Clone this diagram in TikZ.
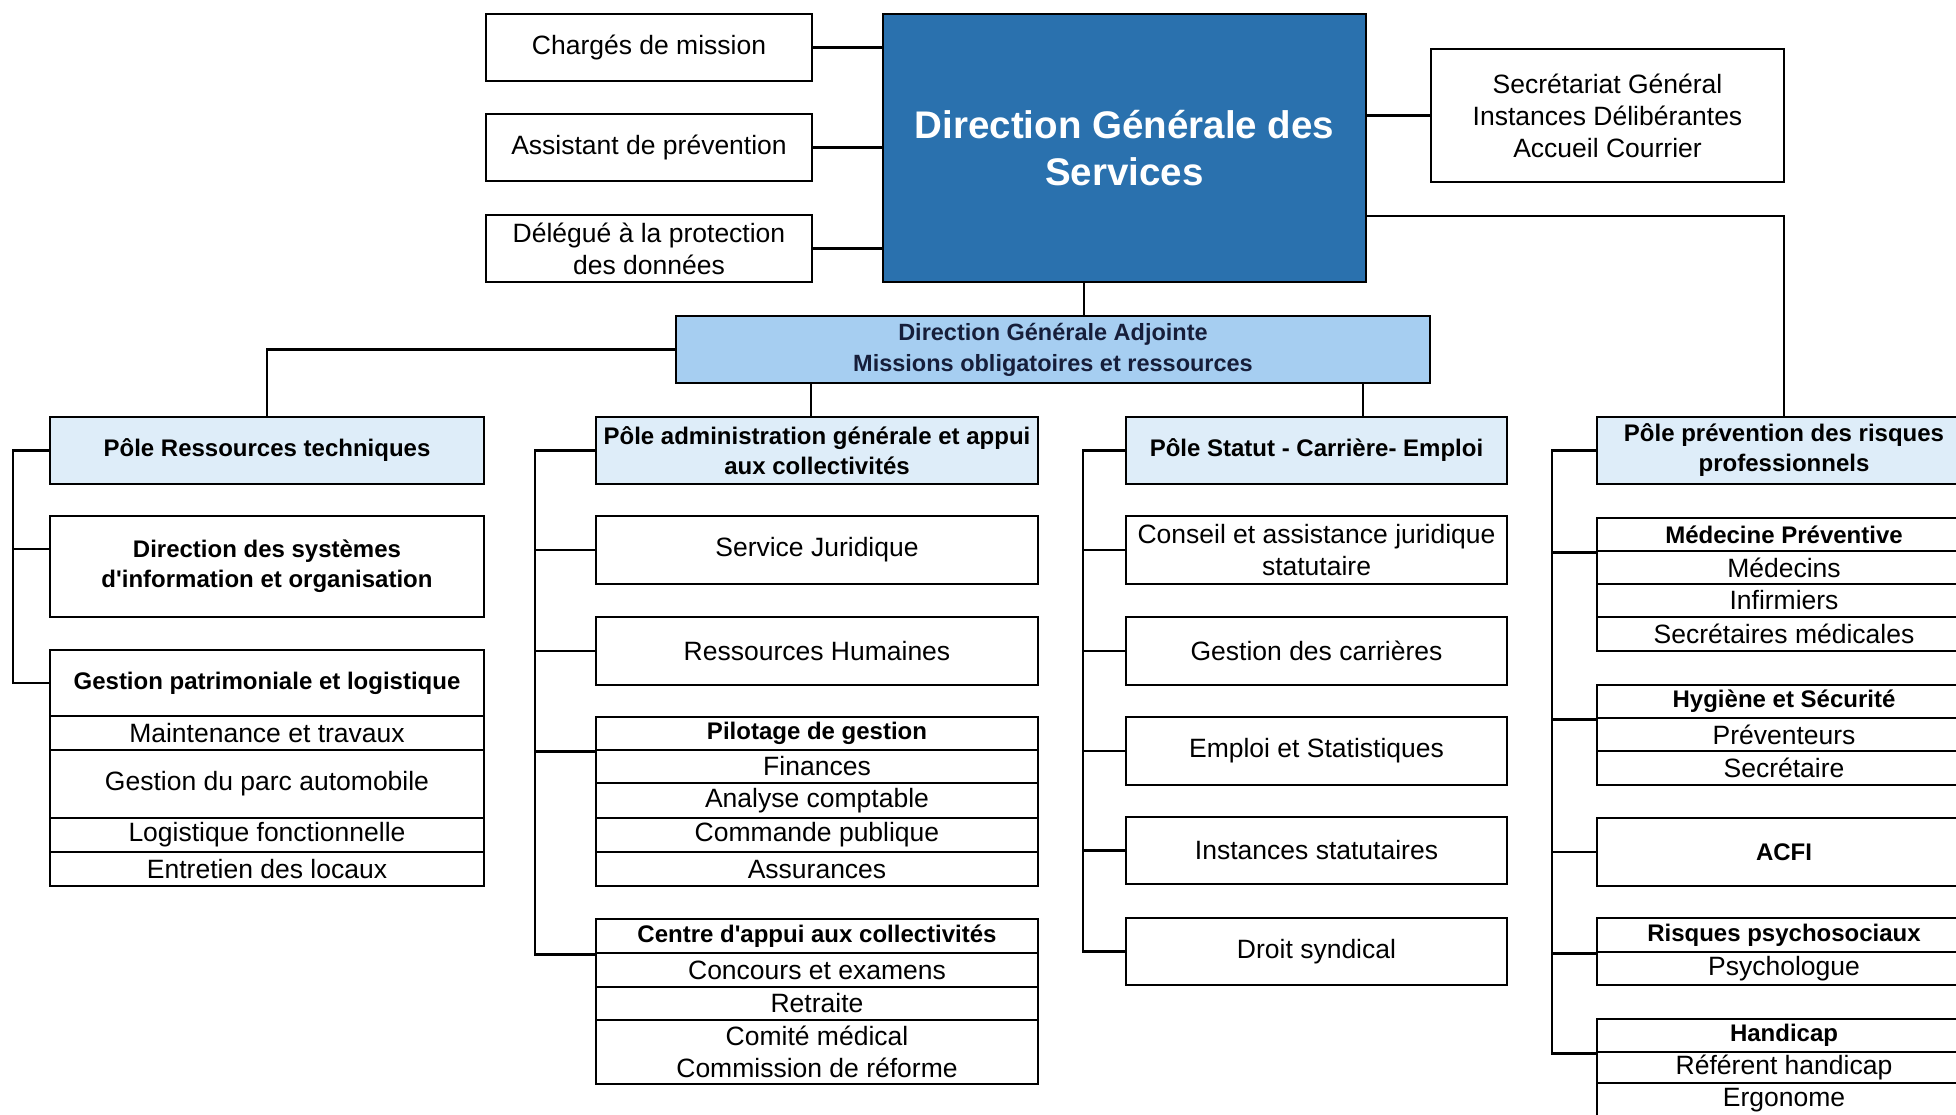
\documentclass[tikz,border=0pt]{standalone}
\usepackage{fontspec}
\setmainfont{Liberation Sans}
\usetikzlibrary{calc}
\definecolor{dgsblue}{RGB}{42,113,174}
\definecolor{dgablue}{RGB}{166,206,241}
\definecolor{poleblue}{RGB}{222,237,249}
\definecolor{dgatext}{RGB}{22,30,58}
\tikzset{
  box/.style={draw, line width=2.6pt, fill=white, align=center, inner sep=0pt,
    font=\fontsize{26.5}{32}\selectfont},
  head/.style={box, font=\fontsize{24}{30}\selectfont\bfseries},
  pole/.style={head, fill=poleblue},
  dgsbox/.style={box, fill=dgsblue, text=white, font=\fontsize{38.5}{47}\selectfont\bfseries},
  dgabox/.style={head, fill=dgablue, text=dgatext, font=\fontsize{23.5}{31}\selectfont\bfseries},
  link/.style={line width=2.5pt},
}
% box from its corners: style, name, x1, y1, x2, y2, text
\newcommand{\orgbox}[7]{\node [#1, minimum width={(#5-#3)*1pt}, minimum height={(#6-#4)*1pt}] (#2) at ({(#3+#5)/2},{(#4+#6)/2}) {#7};}
\begin{document}
\begin{tikzpicture}[x=1pt,y=-1pt]
\clip (0,0) rectangle (1956,1114);
\fill [white] (0,0) rectangle (1956,1114);
% direction
\orgbox{box}{charges}{486}{14}{812}{81}{Chargés de mission}
\orgbox{box}{assist}{486}{114}{812}{181}{Assistant de prévention}
\orgbox{box}{dpo}{486}{215}{812}{282}{Délégué à la protection\\des données}
\orgbox{dgsbox}{dgs}{883}{14}{1366}{282}{Direction Générale des\\Services}
\orgbox{box}{sg}{1431}{49}{1784}{182}{Secrétariat Général\\Instances Délibérantes\\Accueil Courrier}
\orgbox{dgabox}{dga}{676}{316}{1430}{383}{Direction Générale Adjointe\\Missions obligatoires et ressources}
% poles
\orgbox{pole}{rt}{50}{417}{484}{484}{Pôle Ressources techniques}
\orgbox{pole}{adm}{596}{417}{1038}{484}{Pôle administration générale et appui\\aux collectivités}
\orgbox{pole}{stat}{1126}{417}{1507}{484}{Pôle Statut - Carrière- Emploi}
\orgbox{pole}{prev}{1597}{417}{1971}{484}{Pôle prévention des risques\\professionnels}
% ressources techniques
\orgbox{head}{dsi}{50}{516}{484}{617}{Direction des systèmes\\d\textquotesingle information et organisation}
\orgbox{head}{gp}{50}{650}{484}{716}{Gestion patrimoniale et logistique}
\orgbox{box}{gp1}{50}{716}{484}{750}{Maintenance et travaux}
\orgbox{box}{gp2}{50}{750}{484}{818}{Gestion du parc automobile}
\orgbox{box}{gp3}{50}{818}{484}{852}{Logistique fonctionnelle}
\orgbox{box}{gp4}{50}{852}{484}{886}{Entretien des locaux}
% administration generale
\orgbox{box}{jur}{596}{516}{1038}{584}{Service Juridique}
\orgbox{box}{rh}{596}{617}{1038}{685}{Ressources Humaines}
\orgbox{head}{pil}{596}{717}{1038}{750}{Pilotage de gestion}
\orgbox{box}{pil1}{596}{750}{1038}{783}{Finances}
\orgbox{box}{pil2}{596}{783}{1038}{818}{Analyse comptable}
\orgbox{box}{pil3}{596}{818}{1038}{852}{Commande publique}
\orgbox{box}{pil4}{596}{852}{1038}{886}{Assurances}
\orgbox{head}{cap}{596}{919}{1038}{953}{Centre d\textquotesingle appui aux collectivités}
\orgbox{box}{cap1}{596}{953}{1038}{987}{Concours et examens}
\orgbox{box}{cap2}{596}{987}{1038}{1020}{Retraite}
\orgbox{box}{cap3}{596}{1020}{1038}{1084}{Comité médical\\Commission de réforme}
% statut
\orgbox{box}{cons}{1126}{516}{1507}{584}{Conseil et assistance juridique\\statutaire}
\orgbox{box}{carr}{1126}{617}{1507}{685}{Gestion des carrières}
\orgbox{box}{empl}{1126}{717}{1507}{785}{Emploi et Statistiques}
\orgbox{box}{inst}{1126}{817}{1507}{884}{Instances statutaires}
\orgbox{box}{synd}{1126}{918}{1507}{985}{Droit syndical}
% prevention
\orgbox{head}{med}{1597}{518}{1971}{551}{Médecine Préventive}
\orgbox{box}{med1}{1597}{551}{1971}{584}{Médecins}
\orgbox{box}{med2}{1597}{584}{1971}{617}{Infirmiers}
\orgbox{box}{med3}{1597}{617}{1971}{651}{Secrétaires médicales}
\orgbox{head}{hyg}{1597}{685}{1971}{718}{Hygiène et Sécurité}
\orgbox{box}{hyg1}{1597}{718}{1971}{751}{Préventeurs}
\orgbox{box}{hyg2}{1597}{751}{1971}{785}{Secrétaire}
\orgbox{head}{acfi}{1597}{818}{1971}{886}{ACFI}
\orgbox{head}{rps}{1597}{918}{1971}{952}{Risques psychosociaux}
\orgbox{box}{rps1}{1597}{952}{1971}{985}{Psychologue}
\orgbox{head}{hand}{1597}{1019}{1971}{1052}{Handicap}
\orgbox{box}{hand1}{1597}{1052}{1971}{1083}{Référent handicap}
\orgbox{box}{hand2}{1597}{1083}{1971}{1117}{Ergonome}
% links at the top
\foreach \n in {charges,assist,dpo} \draw [link] (\n.east) -- (\n.east -| dgs.west);
\draw [link] (dgs.east |- sg.west) -- (sg.west);
\coordinate (jp) at (1784,216);
\draw [link] (jp -| dgs.east) -- (jp) -- (jp |- prev.north);
\coordinate (jd) at (1084,0);
\draw [link] (jd |- dgs.south) -- (jd |- dga.north);
\draw [link] (dga.west) -| (rt.north);
\coordinate (ja) at (811,0);
\draw [link] (ja |- dga.south) -- (ja |- adm.north);
\coordinate (js) at (1363,0);
\draw [link] (js |- dga.south) -- (js |- stat.north);
% spines
\coordinate (c1) at (13,0); \coordinate (c2) at (535,0);
\coordinate (c3) at (1083,0); \coordinate (c4) at (1552,0);
\draw [link] (rt.west) -| (c1 |- gp.west) -- (gp.west);
\coordinate (dsiin) at ($(dsi.north west)!0.33!(dsi.south west)$);
\draw [link] (c1 |- dsiin) -- (dsiin);
\draw [link] (adm.west) -| (c2 |- cap.south west) -- (cap.south west);
\foreach \n in {jur.west,rh.west,pil.south west} \draw [link] (c2 |- \n) -- (\n);
\draw [link] (stat.west) -| (c3 |- synd.west) -- (synd.west);
\foreach \n in {cons,carr,empl,inst} \draw [link] (c3 |- \n.west) -- (\n.west);
\draw [link] (prev.west) -| (c4 |- hand.south west) -- (hand.south west);
\foreach \n in {med.south west,hyg.south west,acfi.west,rps.south west} \draw [link] (c4 |- \n) -- (\n);
\end{tikzpicture}
\end{document}
